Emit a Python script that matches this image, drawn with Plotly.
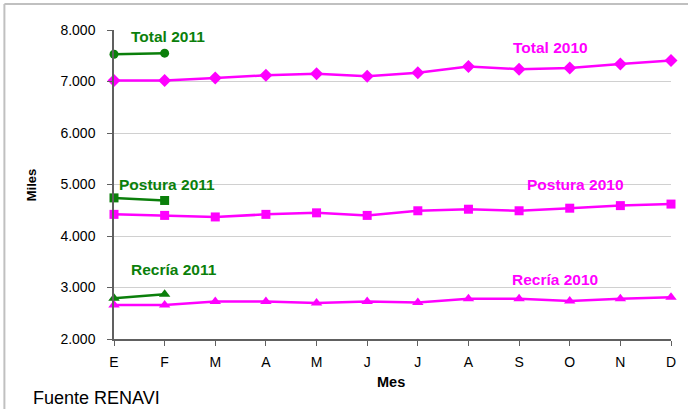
import plotly.graph_objects as go

months = ["E", "F", "M", "A", "M", "J", "J", "A", "S", "O", "N", "D"]
total_2010 = [7020, 7020, 7070, 7120, 7150, 7100, 7170, 7290, 7240, 7260, 7340, 7410]
postura_2010 = [4420, 4400, 4370, 4420, 4450, 4400, 4490, 4520, 4490, 4540, 4590, 4620]
recria_2010 = [2660, 2660, 2730, 2730, 2700, 2730, 2710, 2780, 2780, 2740, 2780, 2810]
total_2011 = [7530, 7550]
postura_2011 = [4740, 4690]
recria_2011 = [2790, 2870]
y_ticks = [2000, 3000, 4000, 5000, 6000, 7000, 8000]
y_tick_labels = ["2.000", "3.000", "4.000", "5.000", "6.000", "7.000", "8.000"]

MAG = "#FF00FF"
GRN = "#0B7F0B"
FONT = "Liberation Sans, Arial, sans-serif"

W, H = 688, 409
L, R, T, B = 114, 673, 30, 339

xs = list(range(len(months)))
fig = go.Figure()

def add(y, color, symbol, size):
    fig.add_trace(go.Scatter(
        x=xs[:len(y)], y=y, mode="lines+markers",
        line=dict(color=color, width=2.5),
        marker=dict(symbol=symbol, size=size, color=color),
        showlegend=False, cliponaxis=False, hoverinfo="skip"))

add(total_2010, MAG, "diamond", 10)
add(postura_2010, MAG, "square", 9)
add(recria_2010, MAG, "triangle-up", 10)
add(total_2011, GRN, "circle", 9)
add(postura_2011, GRN, "square", 9)
add(recria_2011, GRN, "triangle-up", 10)

def px(xp):
    return (xp - L) / (R - L)

def py(yp):
    return (B - yp) / (B - T)

labels = [
    ("Total 2011", 168, 37, GRN),
    ("Total 2010", 552, 48, MAG),
    ("Postura 2011", 167, 185, GRN),
    ("Postura 2010", 577, 185, MAG),
    ("Recría 2011", 174, 269, GRN),
    ("Recría 2010", 557, 279, MAG),
]
for text, cx, cy, col in labels:
    fig.add_annotation(x=px(cx), y=py(cy), xref="paper", yref="paper",
                       text="<b>%s</b>" % text, showarrow=False,
                       font=dict(family=FONT, size=15.5, color=col),
                       xanchor="center", yanchor="middle")

fig.add_annotation(x=px(32), y=py(185), xref="paper", yref="paper",
                   text="<b>Miles</b>", textangle=-90, showarrow=False,
                   font=dict(family=FONT, size=13, color="black"),
                   xanchor="center", yanchor="middle")
fig.add_annotation(x=px(392), y=py(382), xref="paper", yref="paper",
                   text="<b>Mes</b>", showarrow=False,
                   font=dict(family=FONT, size=14.5, color="black"),
                   xanchor="center", yanchor="middle")
fig.add_annotation(x=px(31), y=py(398), xref="paper", yref="paper",
                   text="Fuente RENAVI", showarrow=False,
                   font=dict(family=FONT, size=18, color="black"),
                   xanchor="left", yanchor="middle")

# outer frame (top and left edges visible)
fig.add_shape(type="line", xref="paper", yref="paper",
              x0=px(4), y0=py(4), x1=px(700), y1=py(4),
              line=dict(color="#C0C0C0", width=2))
fig.add_shape(type="line", xref="paper", yref="paper",
              x0=px(4), y0=py(4), x1=px(4), y1=py(420),
              line=dict(color="#C0C0C0", width=2))

fig.update_xaxes(range=[0, 11], tickvals=xs, ticktext=months,
                 showgrid=False, zeroline=False,
                 showline=True, linecolor="#606060", linewidth=1.5,
                 ticks="outside", ticklen=5, tickcolor="#606060",
                 ticklabelstandoff=4,
                 tickfont=dict(family=FONT, size=14, color="black"))
fig.update_yaxes(range=[2000, 8000], tickvals=y_ticks, ticktext=y_tick_labels,
                 showgrid=True, gridcolor="#D0D0D0", gridwidth=1,
                 zeroline=False,
                 showline=True, linecolor="#606060", linewidth=1.5,
                 ticks="outside", ticklen=5, tickcolor="#606060",
                 ticklabelstandoff=9,
                 tickfont=dict(family=FONT, size=14, color="black"))

fig.update_layout(width=W, height=H,
                  margin=dict(l=L, r=W - R, t=T, b=H - B, pad=0),
                  paper_bgcolor="white", plot_bgcolor="white")

fig.write_html("out.html", config={"displayModeBar": False},
               post_script="document.body.style.margin='0';")
